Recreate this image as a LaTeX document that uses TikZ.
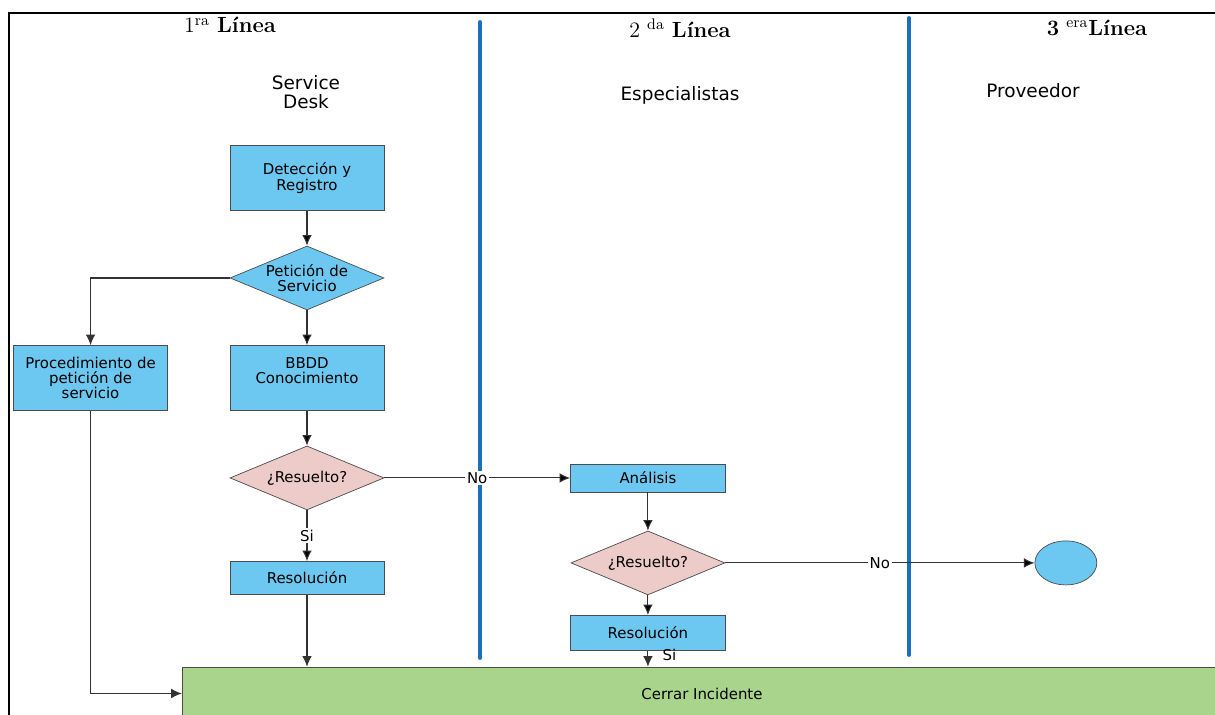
\documentclass[tikz,border=0pt]{standalone}
\usepackage{fontspec}
\setsansfont{DejaVu Sans}
\usetikzlibrary{shapes.geometric,arrows.meta,positioning}

\definecolor{cajazul}{HTML}{6CC8F0}
\definecolor{rosado}{HTML}{EDCBC8}
\definecolor{verde}{HTML}{A8D48C}
\definecolor{carril}{HTML}{1A6FBF}

\begin{document}
\begin{tikzpicture}[x=0.02cm,y=-0.02cm,node distance=2cm,on grid,
  >={Latex[length=6pt,width=5.5pt]},
  caja/.style={rectangle,draw=black!70,fill=cajazul,minimum width=3.08cm,
    align=center,inner sep=1pt,font=\sffamily\fontsize{8.5}{8.7}\selectfont},
  decision/.style={diamond,draw=black!70,fill=#1,minimum width=3.08cm,
    minimum height=1.28cm,shape aspect=2.4,inner sep=0pt,align=center,
    font=\sffamily\fontsize{8.5}{8.7}\selectfont},
  conector/.style={draw=black!80,line width=0.6pt},
  etiqueta/.style={fill=white,inner sep=1pt,font=\sffamily\fontsize{8.5}{9}\selectfont},
  carrilazul/.style={draw=carril,line width=2.2pt,line cap=round},
  titulo/.style={font=\fontsize{12.5}{14}\selectfont},
  grupo/.style={align=center,font=\sffamily\fontsize{10.5}{11}\selectfont}]
\useasboundingbox (0,0) rectangle (1215,715);

% marco y carriles
\draw[line width=1.1pt] (9,720) -- (9,13) -- (1220,13);
\draw[carrilazul] (480,22) -- (480,658);
\draw[carrilazul] (909,18) -- (909,655);

\node[titulo] (linea1) at (230,25) {1\textsuperscript{ra} \textbf{Línea}};
\node[titulo] (linea2) at (680,28) {2 \textsuperscript{da} \textbf{Línea}};
\node[titulo] (linea3) at (1097,28) {\textbf{3} \textsuperscript{era}\textbf{Línea}};

\node[grupo] (sd) at (306,92) {Service\\Desk};
\node[grupo] (esp) at (680,95) {Especialistas};
\node[grupo] (prov) at (1033,91) {Proveedor};

% 1ra linea
\node[caja,minimum height=1.3cm] (deteccion) at (307,178) {Detección y\\Registro};
\node[decision=cajazul] (peticion) [below=of deteccion] {Petición de\\Servicio};
\node[caja,minimum height=1.3cm] (bbdd) [below=of peticion] {BBDD\\Conocimiento\\~};
\node[caja,minimum height=1.3cm] (proc) [left=4.33cm of bbdd] {Procedimiento de\\petición de\\servicio};
\node[decision=rosado] (resuelto1) [below=of bbdd] {¿Resuelto?};
\node[caja,minimum height=0.66cm] (res1) [below=of resuelto1] {Resolución};

% 2da linea
\node[caja,minimum width=3.1cm,minimum height=0.56cm] (analisis) [right=6.82cm of resuelto1] {Análisis};
\node[decision=rosado] (resuelto2) [below=1.7cm of analisis] {¿Resuelto?};
\node[caja,minimum width=3.1cm,minimum height=0.7cm] (res2) [below=1.4cm of resuelto2] {Resolución};

% 3ra linea
\node[ellipse,draw=black!70,fill=cajazul,minimum width=1.24cm,minimum height=0.88cm] (fin) [right=8.36cm of resuelto2] {};

\node[rectangle,draw=black!70,fill=verde,minimum width=20.8cm,minimum height=1.06cm,
  font=\sffamily\fontsize{8.5}{9}\selectfont] (cerrar) at (702,693.5) {Cerrar Incidente};

\path[->,conector]
(deteccion) edge (peticion)
(peticion) edge (bbdd)
(bbdd) edge (resuelto1)
(resuelto1) edge node[etiqueta] {Si} (res1)
(resuelto1) edge node[etiqueta] {No} (analisis)
(analisis) edge (resuelto2)
(resuelto2) edge (res2)
(resuelto2) edge node[etiqueta] {No} (fin)
; %fin path

\draw[->,conector] (peticion.west) -| (proc.north);
\draw[->,conector] (proc.south) |- (cerrar.west);
\draw[->,conector] (res1.south) -- (res1.south |- cerrar.north);
\draw[->,conector] (res2.south) -- node[etiqueta,fill=none,anchor=west,xshift=7pt,yshift=2pt] {Si} (res2.south |- cerrar.north);
\end{tikzpicture}
\end{document}
